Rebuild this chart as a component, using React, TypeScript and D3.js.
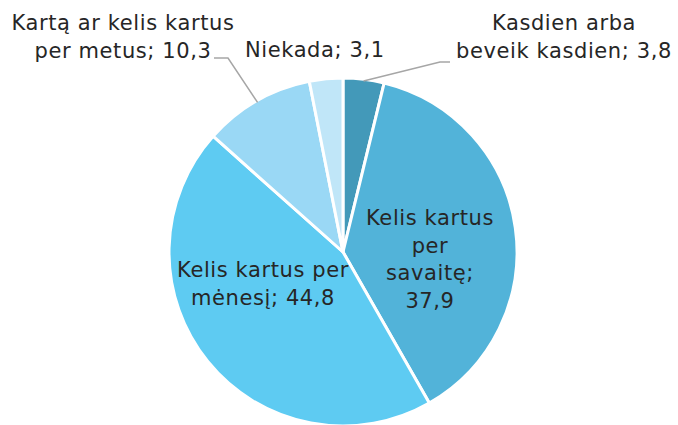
import React from 'react';
import * as d3 from 'd3';

const categories = [
  'Kasdien arba beveik kasdien',
  'Kelis kartus per savaitę',
  'Kelis kartus per mėnesį',
  'Kartą ar kelis kartus per metus',
  'Niekada',
];
const values = [3.8, 37.9, 44.8, 10.3, 3.1];
const colors = ['#4399b9', '#52b3d9', '#5ecbf2', '#9ad8f5', '#c0e6f8'];

// label lines per slice, with where the block sits
const labelLines = [
  ['Kasdien arba', 'beveik kasdien; 3,8'],
  ['Kelis kartus', 'per', 'savaitę;', '37,9'],
  ['Kelis kartus per', 'mėnesį; 44,8'],
  ['Kartą ar kelis kartus', 'per metus; 10,3'],
  ['Niekada; 3,1'],
];
const labelPos: [number, number, string][] = [
  [564, 30, 'middle'],
  [430, 225, 'middle'],
  [263, 277, 'middle'],
  [123, 30, 'middle'],
  [245, 57, 'start'],
];

const W = 678, H = 425;
const cx = 343, cy = 252, R = 174;

export default function App() {
  const pie = d3.pie<number>().sort(null).value(d => d);
  const arcs = pie(values);
  const arc = d3.arc<d3.PieArcDatum<number>>().innerRadius(0).outerRadius(R);
  const lineH = 27.5;

  // leader lines: from label end to slice outer edge
  const edge = (i: number, k = 1.0) => {
    const a = (arcs[i].startAngle + arcs[i].endAngle) / 2;
    return [cx + Math.sin(a) * R * k, cy - Math.cos(a) * R * k];
  };
  const e0 = edge(0, 0.99);
  const e3 = edge(3, 0.99);
  const leaders = [
    [[450, 62], [440, 62], e0],
    [[214, 58], [228, 58], e3],
  ];

  return (
    <svg width={W} height={H} style={{ position: 'absolute', left: 0, top: 0 }}>
      <rect width={W} height={H} fill="#ffffff" />
      <g transform={`translate(${cx},${cy})`}>
        {arcs.map((d, i) => (
          <path key={categories[i]} d={arc(d) || ''} fill={colors[i]} stroke="#ffffff" strokeWidth={3} strokeLinejoin="round" />
        ))}
      </g>
      {leaders.map((pts, i) => (
        <path key={i} d={d3.line()(pts as [number, number][]) || ''} fill="none" stroke="#a6a6a6" strokeWidth={1.5} />
      ))}
      {labelLines.map((lines, i) => (
        <text key={i} fontFamily="'Century Gothic', 'DejaVu Sans', sans-serif" fontSize={21} letterSpacing={0.6} fill="#262626" textAnchor={labelPos[i][2]}>
          {lines.map((l, j) => (
            <tspan key={j} x={labelPos[i][0]} y={labelPos[i][1] + j * lineH}>{l}</tspan>
          ))}
        </text>
      ))}
    </svg>
  );
}
